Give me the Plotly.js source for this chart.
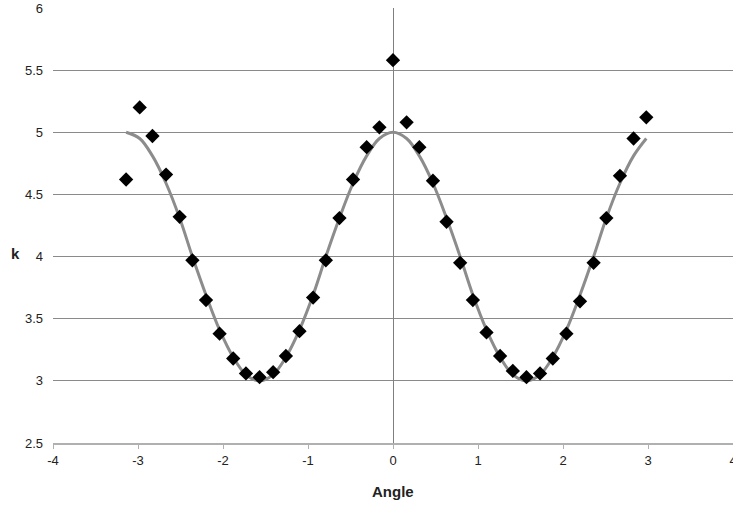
<!DOCTYPE html>
<html>
<head>
<meta charset="utf-8">
<script src="https://cdn.plot.ly/plotly-3.0.1.min.js"></script>
<style>html,body{margin:0;padding:0;background:#fff;}#chart{width:733px;height:506px;}</style>
</head>
<body>
<div id="chart"></div>
<script>
// Measured points (angle, k)
const angle = [-3.14, -2.98, -2.83, -2.67, -2.51, -2.36, -2.20, -2.04, -1.88, -1.73,
               -1.57, -1.41, -1.26, -1.10, -0.94, -0.79, -0.63, -0.47, -0.31, -0.16,
                0.00,  0.16,  0.31,  0.47,  0.63,  0.79,  0.94,  1.10,  1.26,  1.41,
                1.57,  1.73,  1.88,  2.04,  2.20,  2.36,  2.51,  2.67,  2.83,  2.98];
const kMeasured = [4.62, 5.20, 4.97, 4.66, 4.32, 3.97, 3.65, 3.38, 3.18, 3.06,
                   3.03, 3.07, 3.20, 3.40, 3.67, 3.97, 4.31, 4.62, 4.88, 5.04,
                   5.58, 5.08, 4.88, 4.61, 4.28, 3.95, 3.65, 3.39, 3.20, 3.08,
                   3.03, 3.06, 3.18, 3.38, 3.64, 3.95, 4.31, 4.65, 4.95, 5.12];
// Fitted curve
const kFit = [5.00, 4.95, 4.81, 4.59, 4.31, 4.00, 3.69, 3.41, 3.19, 3.05,
              3.00, 3.05, 3.19, 3.41, 3.69, 4.00, 4.31, 4.59, 4.81, 4.95,
              5.00, 4.95, 4.81, 4.59, 4.31, 4.00, 3.69, 3.41, 3.19, 3.05,
              3.00, 3.05, 3.19, 3.41, 3.69, 4.00, 4.31, 4.59, 4.81, 4.95];
const xTicks = [-4, -3, -2, -1, 0, 1, 2, 3, 4];
const yTicks = [2.5, 3, 3.5, 4, 4.5, 5, 5.5, 6];

const font = 'Liberation Sans, Arial, sans-serif';

const traces = [
  {
    x: angle, y: kFit, type: 'scatter', mode: 'lines',
    line: {color: '#8c8c8c', width: 3, shape: 'spline', smoothing: 1},
    hoverinfo: 'skip', showlegend: false
  },
  {
    x: angle, y: kMeasured, type: 'scatter', mode: 'markers',
    marker: {symbol: 'diamond', size: 11, color: '#000000', line: {width: 0}},
    showlegend: false
  }
];

const layout = {
  width: 733, height: 506,
  margin: {l: 53, r: 0, t: 8, b: 63, pad: 0},
  paper_bgcolor: '#ffffff', plot_bgcolor: '#ffffff',
  showlegend: false,
  font: {family: font, size: 13, color: '#222'},
  xaxis: {
    range: [-4, 4], tickvals: xTicks, ticktext: xTicks.map(String),
    showgrid: false, zeroline: true, zerolinecolor: '#808080', zerolinewidth: 1,
    showline: true, linecolor: '#b0b0b0', linewidth: 2,
    ticks: 'outside', ticklen: 4, tickcolor: '#b0b0b0', tickwidth: 1,
    ticklabeloverflow: 'allow',
    tickfont: {family: font, size: 13, color: '#222'},
    automargin: false, fixedrange: true
  },
  yaxis: {
    range: [2.5, 6], tickvals: yTicks, ticktext: yTicks.map(String),
    showgrid: true, gridcolor: '#8a8a8a', gridwidth: 1,
    zeroline: false, showline: false, ticks: '',
    ticklabelstandoff: 9,
    tickfont: {family: font, size: 13, color: '#222'},
    automargin: false, fixedrange: true
  },
  annotations: [
    {text: '<b>Angle</b>', xref: 'paper', yref: 'paper', x: 0.5, y: -0.111,
     xanchor: 'center', yanchor: 'middle', showarrow: false,
     font: {family: font, size: 15, color: '#222'}},
    {text: '<b>k</b>', xref: 'paper', yref: 'paper', x: -0.055, y: 0.436,
     xanchor: 'center', yanchor: 'middle', showarrow: false,
     font: {family: font, size: 15, color: '#222'}}
  ]
};

Plotly.newPlot('chart', traces, layout, {displayModeBar: false, staticPlot: true});
</script>
</body>
</html>
